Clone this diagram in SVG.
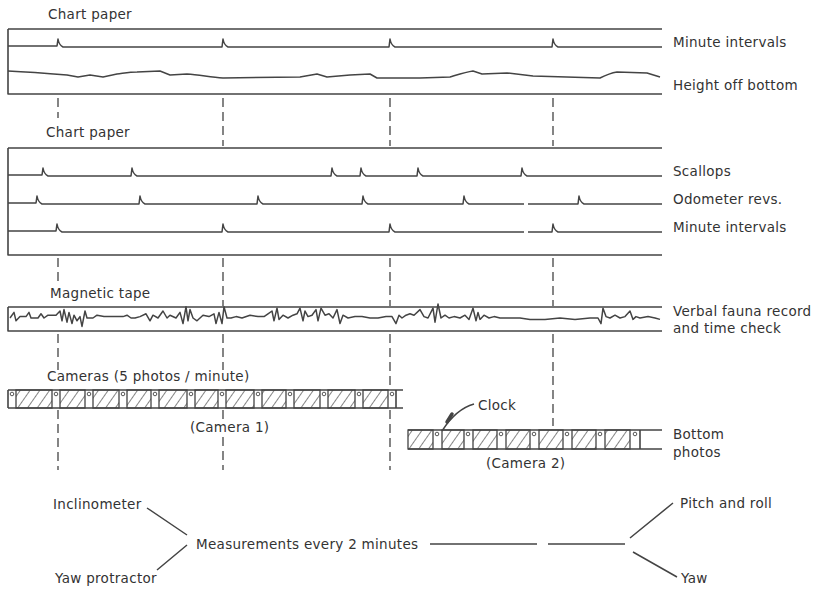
<svg xmlns="http://www.w3.org/2000/svg" width="817" height="589" viewBox="0 0 817 589">
<style>
text{font-family:"DejaVu Sans","Liberation Sans",sans-serif;font-size:13.5px;letter-spacing:0.3px;fill:#333}
.ln{fill:none;stroke:#444;stroke-width:1.6;stroke-linejoin:round}
.tr{fill:none;stroke:#444;stroke-width:1.5;stroke-linejoin:round}
.dash{fill:none;stroke:#444;stroke-width:1.3;stroke-dasharray:9 5}
.cell{fill:url(#hatch);stroke:#444;stroke-width:1.3}
.dot{fill:none;stroke:#444;stroke-width:0.9}
</style>
<defs>
<pattern id="hatch" width="8" height="12" patternUnits="userSpaceOnUse" patternTransform="rotate(35)">
<line x1="0" y1="0" x2="0" y2="12" stroke="#444" stroke-width="1.3"/>
</pattern>
</defs>
<rect width="817" height="589" fill="#fff"/>

<g id="chart1">
<text x="48" y="19">Chart paper</text>
<path class="ln" d="M8 29 H662 M8 29 V94 H662"/>
<path class="tr" d="M8 46 H57 L58 39 Q59 45 63 47 H222 L223 39 Q224 45 228 47 H389 L390 39 Q391 45 395 47 H552 L553 39 Q554 45 558 47 H662"/>
<path class="tr" d="M8 71 C30 72 55 74 67 75 L78 77 L90 75 L103 77 L117 74 C125 73 130 72 137 72 L160 71 L170 75 L187 74 C200 75 210 77 223 78 L300 77 L317 74 L327 77 L350 75 L370 74 L377 78 L420 78 L450 77 C460 74 466 72 473 71 L482 74 L507 73 L533 76 L600 78 C606 75 611 73 617 72 L647 73 L660 77"/>
<text x="673" y="47">Minute intervals</text>
<text x="673" y="90">Height off bottom</text>
</g>

<g id="chart2">
<text x="46" y="137">Chart paper</text>
<path class="ln" d="M8 148 H662 M8 148 V255 H662"/>
<path class="tr" d="M8 175 H42 L43 168 Q44 174 48 176 H131 L132 168 Q133 174 137 176 H331 L332 168 Q333 174 337 176 H360 L361 168 Q362 174 366 176 H417 L418 168 Q419 174 423 176 H521 L522 168 Q523 174 527 176 H662"/>
<path class="tr" d="M8 203 H36 L37 196 Q38 202 42 204 H139 L140 196 Q141 202 145 204 H257 L258 196 Q259 202 263 204 H362 L363 196 Q364 202 368 204 H463 L464 196 Q465 202 469 204 H524 M528 204 H578 L579 196 Q580 202 584 204 H662"/>
<path class="tr" d="M8 231 H56 L57 224 Q58 230 62 232 H222 L223 224 Q224 230 228 232 H389 L390 224 Q391 230 395 232 H524 M528 232 H552 L553 224 Q554 230 558 232 H662"/>
<text x="673" y="176">Scallops</text>
<text x="673" y="204">Odometer revs.</text>
<text x="673" y="232">Minute intervals</text>
</g>

<g id="tape">
<text x="50" y="298">Magnetic tape</text>
<path class="ln" d="M8 307 H662 M8 307 V331 H662"/>
<polyline class="tr" vector-effect="non-scaling-stroke" transform="translate(0,318) scale(1,1.4) translate(0,-318)" points="10,318 14,314 16,320 20,317 26,317 29,314 31,318 38,318 41,315 44,318 48,316 56,316 60,313 62,320 64,312 67,321 69,314 72,322 74,316 77,320 80,317 82,324 85,313 87,318 93,318 97,316 104,317 112,317 118,317 123,317 127,316 131,318 135,318 140,317 146,315 150,320 153,316 158,318 163,313 167,318 170,316 176,318 180,314 183,322 186,310 188,320 190,312 193,318 197,320 203,316 209,317 214,315 216,322 219,314 222,322 224,310 227,318 231,318 236,317 242,318 250,316 258,317 264,317 268,315 272,313 274,320 277,311 279,319 283,316 288,318 293,316 297,315 300,311 303,320 305,313 308,317 312,316 316,312 318,320 321,311 325,316 329,315 333,318 337,312 340,322 343,316 348,318 355,317 362,317 370,318 378,318 386,317 392,317 396,322 399,316 402,318 406,316 410,315 414,316 420,312 424,317 428,318 433,311 435,321 438,308 441,318 445,316 449,318 454,317 460,318 465,316 469,319 473,311 476,320 478,314 480,319 484,316 489,318 494,317 500,318 510,318 520,318 530,319 545,319 560,318 575,319 590,318 598,318 601,322 603,311 606,317 610,318 615,316 620,318 625,317 630,313 633,319 636,317 640,318 648,317 655,318 660,319"/>
<text x="673" y="316">Verbal fauna record</text>
<text x="673" y="333">and time check</text>
</g>

<g id="camera1">
<text x="47" y="381">Cameras (5 photos / minute)</text>
<path class="ln" d="M8 390 H403 M8 408 H403"/>
<rect class="cell" x="16" y="390" width="36" height="18"/>
<rect class="cell" x="60" y="390" width="25" height="18"/>
<rect class="cell" x="93" y="390" width="26" height="18"/>
<rect class="cell" x="127" y="390" width="24" height="18"/>
<rect class="cell" x="159" y="390" width="28" height="18"/>
<rect class="cell" x="195" y="390" width="23" height="18"/>
<rect class="cell" x="226" y="390" width="28" height="18"/>
<rect class="cell" x="262" y="390" width="24" height="18"/>
<rect class="cell" x="294" y="390" width="26" height="18"/>
<rect class="cell" x="328" y="390" width="27" height="18"/>
<rect class="cell" x="363" y="390" width="25" height="18"/>
<path class="ln" d="M8 390 V408 M396 390 V408"/>
<g class="dot">
<circle cx="12" cy="394" r="1.8"/><circle cx="56" cy="394" r="1.8"/><circle cx="89" cy="394" r="1.8"/><circle cx="123" cy="394" r="1.8"/><circle cx="155" cy="394" r="1.8"/><circle cx="191" cy="394" r="1.8"/><circle cx="222" cy="394" r="1.8"/><circle cx="258" cy="394" r="1.8"/><circle cx="290" cy="394" r="1.8"/><circle cx="324" cy="394" r="1.8"/><circle cx="359" cy="394" r="1.8"/><circle cx="392" cy="394" r="1.8"/>
</g>
<text x="190" y="432">(Camera 1)</text>
</g>

<g id="camera2">
<text x="478" y="410">Clock</text>
<path class="ln" d="M408 430 H662 M408 449 H662"/>
<rect class="cell" x="408" y="430" width="25" height="19"/>
<rect class="cell" x="442" y="430" width="22" height="19"/>
<rect class="cell" x="473" y="430" width="24" height="19"/>
<rect class="cell" x="506" y="430" width="24" height="19"/>
<rect class="cell" x="539" y="430" width="24" height="19"/>
<rect class="cell" x="572" y="430" width="24" height="19"/>
<rect class="cell" x="605" y="430" width="25" height="19"/>
<path class="ln" d="M640 430 V449"/>
<g class="dot">
<circle cx="437" cy="434" r="1.8"/><circle cx="468" cy="434" r="1.8"/><circle cx="501" cy="434" r="1.8"/><circle cx="534" cy="434" r="1.8"/><circle cx="567" cy="434" r="1.8"/><circle cx="600" cy="434" r="1.8"/><circle cx="635" cy="434" r="1.8"/>
</g>
<path class="tr" d="M474 404 Q456 409 442 431"/>
<path d="M447 422 L452 414" stroke="#444" stroke-width="3.5" stroke-linecap="round"/>
<text x="673" y="439">Bottom</text>
<text x="673" y="457">photos</text>
<text x="486" y="468">(Camera 2)</text>
</g>

<g id="connectors">
<path class="dash" d="M58 98 V118 M223 98 V146 M390 98 V146 M553 98 V146"/>
<path class="dash" d="M58 258 V285 M223 258 V306 M390 258 V306 M553 258 V306"/>
<path class="dash" d="M58 334 V370 M223 334 V370 M390 334 V389 M553 334 V426"/>
<path class="dash" d="M58 410 V470 M223 410 V419 M223 437 V470 M390 410 V470"/>
<path class="tr" d="M147 508 L187 535 M187 545 L157 570 M430 544 H537 M548 544 H625 M630 538 L673 503 M633 552 L677 577"/>
</g>

<g id="measurements">
<text x="53" y="509">Inclinometer</text>
<text x="196" y="549">Measurements every 2 minutes</text>
<text x="55" y="583">Yaw protractor</text>
<text x="680" y="508">Pitch and roll</text>
<text x="681" y="583">Yaw</text>
</g>
</svg>
